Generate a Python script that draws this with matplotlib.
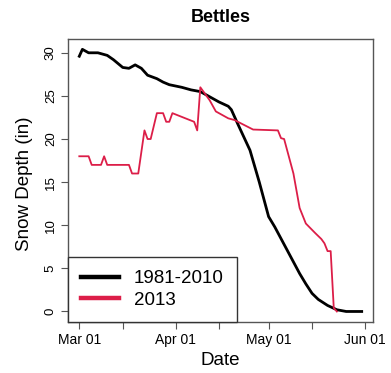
import matplotlib
matplotlib.use('Agg')
import matplotlib.pyplot as plt
import matplotlib.dates as mdates
import numpy as np

plt.rcParams['font.family'] = ['Liberation Sans', 'DejaVu Sans']

# days after Mar 01 2013, snow depth in inches
normal_days = [0, 1, 3, 6, 7, 9, 11, 14, 16, 18, 20, 22, 25, 27, 29, 33, 36,
               39, 42, 45, 48, 49, 51, 55, 58, 61, 63, 67, 71, 73, 75, 77, 80, 83, 86, 91]
normal_depth = [29.6, 30.4, 30.0, 30.0, 29.9, 29.7, 29.2, 28.3, 28.2, 28.6, 28.2,
                27.4, 27.0, 26.6, 26.3, 26.0, 25.7, 25.5, 24.9, 24.3, 23.8, 23.4,
                21.8, 18.7, 15.0, 11.0, 9.8, 7.1, 4.4, 3.2, 2.1, 1.4, 0.7, 0.2, 0.0, 0.0]

y2013_days = [0, 3, 4, 7, 8, 9, 16, 17, 19, 21, 22, 23, 25, 27, 28, 29, 30, 37,
              38, 39, 42, 44, 48, 50, 56, 64, 65, 66, 69, 71, 73, 76, 78, 79, 80,
              81, 82, 83]
y2013_depth = [18, 18, 17, 17, 18, 17, 17, 16, 16, 21, 20, 20, 23, 23, 22, 22, 23,
               22, 21, 26, 24.5, 23.2, 22.4, 22.2, 21.1, 21.0, 20.1, 20.0, 16.0,
               12.0, 10.2, 9.1, 8.4, 7.9, 7.0, 7.0, 0.4, 0.0]

labels = ['1981-2010', '2013']
start = np.datetime64('2013-03-01')
tick_dates = ['2013-03-01', '2013-03-15', '2013-04-01', '2013-04-15',
              '2013-05-01', '2013-05-15', '2013-06-01']
tick_labels = ['Mar 01', '', 'Apr 01', '', 'May 01', '', 'Jun 01']

x_norm = start + np.array(normal_days).astype('timedelta64[D]')
x_2013 = start + np.array(y2013_days).astype('timedelta64[D]')

fig = plt.figure(figsize=(3.91, 3.73), dpi=100)
ax = fig.add_axes([68/391, 51/373, 305/391, 283/373])

ax.plot(x_norm, normal_depth, color='black', lw=2.0, label=labels[0], zorder=2)
ax.plot(x_2013, y2013_depth, color='#dc1e48', lw=1.3, label=labels[1], zorder=3)

x0 = mdates.date2num(start)
ax.set_xlim(x0 - 3.64, x0 + 94.64)
ax.set_ylim(-1.22, 31.6)

ax.set_xticks(mdates.date2num(np.array(tick_dates, dtype='datetime64[D]')))
ax.set_xticklabels(tick_labels, fontsize=10)
ax.set_yticks(range(0, 31, 5))
ax.set_yticklabels([str(v) for v in range(0, 31, 5)], rotation=90, va='center', fontsize=9.5)
ax.tick_params(direction='out', length=5, width=0.8, color='#555555', pad=3)

for s in ax.spines.values():
    s.set_color('#555555')
    s.set_linewidth(1)

ax.set_xlabel('Date', fontsize=13.5)
ax.xaxis.set_label_coords(0.498, -0.105)
ax.set_ylabel('Snow Depth (in)', fontsize=13.5)
ax.yaxis.set_label_coords(-0.115, 0.49)

fig.text(220.5/391, 1 - 17/373, 'Bettles', ha='center', va='center',
         fontsize=13, fontweight='bold')

leg = ax.legend(loc='lower left', borderaxespad=0, fontsize=13.5, fancybox=False,
                framealpha=1, edgecolor='#333333', handlelength=2.0,
                handletextpad=0.8, borderpad=0.7, labelspacing=0.25)
leg.get_frame().set_linewidth(1)
for h in leg.get_lines():
    h.set_linewidth(3.2)

fig.savefig('out.png', dpi=100)
